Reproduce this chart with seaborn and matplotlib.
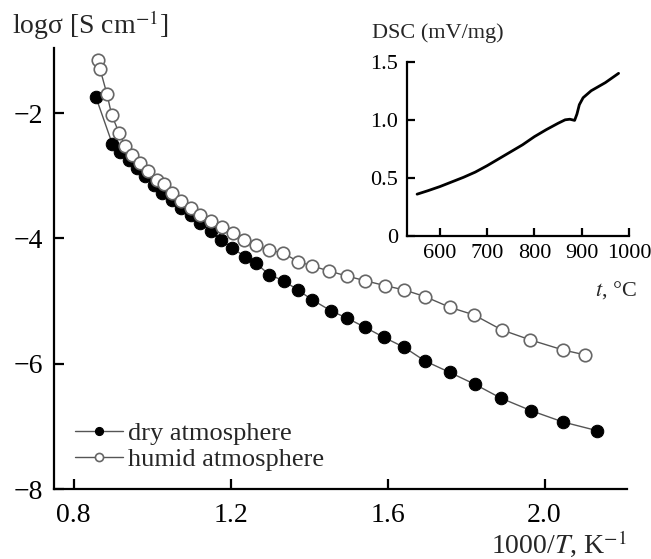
import matplotlib
matplotlib.use("Agg")
import matplotlib.pyplot as plt
import seaborn as sns
import numpy as np

# conductivity data (1000/T in K^-1, log sigma in S/cm)
dry_x = [0.857, 0.899, 0.919, 0.940, 0.962, 0.983, 1.004, 1.026, 1.050, 1.074,
         1.098, 1.122, 1.149, 1.175, 1.204, 1.236, 1.265, 1.299, 1.335, 1.373,
         1.408, 1.457, 1.496, 1.543, 1.591, 1.643, 1.695, 1.759, 1.823, 1.889,
         1.966, 2.047, 2.135]
dry_y = [-1.75, -2.50, -2.62, -2.75, -2.88, -3.01, -3.14, -3.27, -3.39, -3.51,
         -3.63, -3.75, -3.88, -4.02, -4.15, -4.29, -4.40, -4.58, -4.675, -4.83,
         -4.98, -5.16, -5.27, -5.42, -5.58, -5.74, -5.955, -6.14, -6.33, -6.55,
         -6.75, -6.93, -7.07]

humid_x = [0.863, 0.867, 0.885, 0.897, 0.916, 0.932, 0.949, 0.969, 0.989, 1.013,
           1.031, 1.051, 1.074, 1.098, 1.122, 1.149, 1.177, 1.205, 1.235, 1.265,
           1.297, 1.333, 1.372, 1.408, 1.451, 1.496, 1.543, 1.594, 1.643, 1.696,
           1.759, 1.820, 1.891, 1.964, 2.047, 2.104]
humid_y = [-1.155, -1.29, -1.70, -2.03, -2.32, -2.53, -2.67, -2.80, -2.92, -3.07,
           -3.13, -3.28, -3.40, -3.52, -3.62, -3.72, -3.81, -3.91, -4.02, -4.10,
           -4.19, -4.23, -4.37, -4.44, -4.52, -4.60, -4.675, -4.754, -4.823, -4.93,
           -5.10, -5.22, -5.46, -5.62, -5.78, -5.86]

# DSC inset (t in C, mV/mg)
dsc_t = [552, 575, 600, 625, 650, 675, 700, 725, 750, 775, 800, 825, 850,
         865, 875, 885, 890, 895, 903, 920, 950, 978]
dsc_v = [0.36, 0.39, 0.425, 0.465, 0.505, 0.55, 0.605, 0.665, 0.725, 0.785,
         0.855, 0.915, 0.97, 1.0, 1.005, 0.995, 1.05, 1.13, 1.19, 1.25, 1.32, 1.40]

sns.set_theme(style="ticks")
plt.rcParams.update({
    "font.family": ["Liberation Serif", "DejaVu Serif"],
    "mathtext.fontset": "stix",
    "axes.linewidth": 1.6,
    "xtick.direction": "in",
    "ytick.direction": "in",
    "xtick.major.width": 1.6,
    "ytick.major.width": 1.6,
    "xtick.major.size": 7,
    "ytick.major.size": 7,
    "xtick.color": "black",
    "ytick.color": "black",
    "axes.edgecolor": "black",
})

fig = plt.figure(figsize=(6.51, 5.59), dpi=100)
ax = fig.add_axes([0.083, 0.1252, 0.880, 0.789])

line_kw = dict(color="#555555", linewidth=1.0, sort=False, ax=ax,
               markersize=9, estimator=None)
sns.lineplot(x=dry_x, y=dry_y, marker="o", markerfacecolor="black",
             markeredgecolor="black", label="dry atmosphere", **line_kw)
sns.lineplot(x=humid_x, y=humid_y, marker="o", markerfacecolor="white",
             markeredgecolor="#666666", markeredgewidth=1.2,
             label="humid atmosphere", **line_kw)

ax.set_xlim(0.75, 2.21)
ax.set_ylim(-8, -0.96)
ax.set_xticks([0.8, 1.2, 1.6, 2.0])
ax.set_xticklabels(["0.8", "1.2", "1.6", "2.0"])
ax.set_yticks([-8, -6, -4, -2])
ax.set_yticklabels(["\u22128", "\u22126", "\u22124", "\u22122"])
ax.tick_params(axis="x", labelsize=20, pad=10)
ax.tick_params(axis="y", labelsize=20, pad=8)
ax.set_xlabel("")
ax.set_ylabel("")
sns.despine(ax=ax)

leg = ax.legend(loc="lower left", bbox_to_anchor=(0.023, 0.023), frameon=False,
                fontsize=19, handlelength=1.8, handletextpad=0.2,
                borderaxespad=0, borderpad=0.3, labelspacing=0.1,
                markerscale=0.65)

fig.text(0.018, 0.955, "log\u03c3 [S cm$^{-1}$]", fontsize=20, va="center")
fig.text(0.963, 0.0107, "1000/$T$, K$^{-1}$", fontsize=20, ha="right",
         va="baseline")

# inset with DSC curve
ins = fig.add_axes([0.6247, 0.5778, 0.3415, 0.3118])
sns.lineplot(x=dsc_t, y=dsc_v, color="black", linewidth=2.0, sort=False,
             estimator=None, ax=ins)
ins.set_xlim(530, 1000)
ins.set_ylim(0, 1.5)
ins.set_xticks([600, 700, 800, 900, 1000])
ins.set_yticks([0, 0.5, 1.0, 1.5])
ins.set_yticklabels(["0", "0.5", "1.0", "1.5"])
ins.tick_params(labelsize=16, length=6, pad=6)
ins.set_xlabel("")
ins.set_ylabel("")
sns.despine(ax=ins)
ins.patch.set_alpha(0)
fig.text(0.571, 0.941, "DSC (mV/mg)", fontsize=16, va="center")
fig.text(0.978, 0.481, "$t$, \u00b0C", fontsize=16, ha="right", va="center")

fig.savefig("out.png", dpi=100)
